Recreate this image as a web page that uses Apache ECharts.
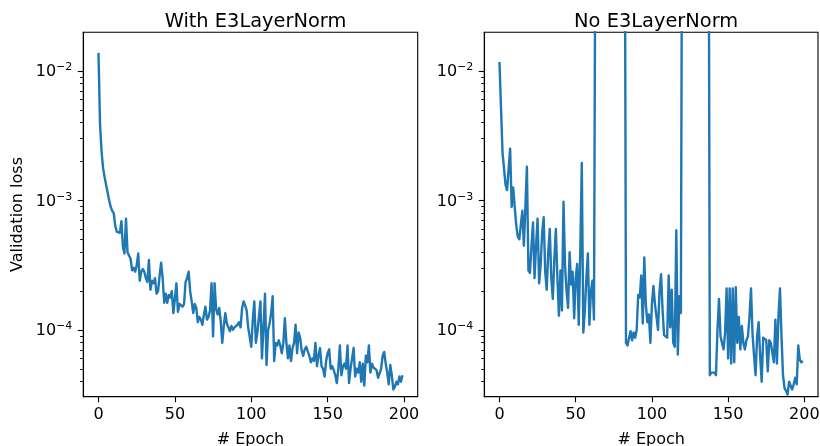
<!DOCTYPE html>
<html><head><meta charset="utf-8">
<script src="https://cdn.jsdelivr.net/npm/echarts@6/dist/echarts.min.js"></script>
<style>html,body{margin:0;padding:0;background:#fff}#c{width:820px;height:446px}</style>
</head><body><div id="c"></div>
<script>
const titles = ['With E3LayerNorm', 'No E3LayerNorm'];
const xLabel = '# Epoch';
const yLabel = 'Validation loss';
const xTicks = [0, 50, 100, 150, 200];
const yMajorTicks = [1e-4, 1e-3, 1e-2];
const yMinorTicks = [4e-5, 5e-5, 6e-5, 7e-5, 8e-5, 9e-5,
  2e-4, 3e-4, 4e-4, 5e-4, 6e-4, 7e-4, 8e-4, 9e-4,
  2e-3, 3e-3, 4e-3, 5e-3, 6e-3, 7e-3, 8e-3, 9e-3];

// Validation loss per epoch (0..199), with E3LayerNorm
const lossWith = [
  1.380e-2, 3.890e-3, 2.399e-3, 1.778e-3, 1.514e-3, 1.318e-3, 1.148e-3, 1.000e-3, 8.913e-4, 8.318e-4,
  7.943e-4, 6.310e-4, 5.754e-4, 5.700e-4, 5.623e-4, 6.918e-4, 4.365e-4, 3.890e-4, 7.244e-4, 3.981e-4,
  4.074e-4, 3.548e-4, 2.884e-4, 3.020e-4, 2.818e-4, 3.162e-4, 3.890e-4, 2.399e-4, 2.818e-4, 2.951e-4,
  2.818e-4, 2.512e-4, 2.344e-4, 3.467e-4, 2.042e-4, 2.399e-4, 2.291e-4, 2.512e-4, 1.905e-4, 1.995e-4,
  2.630e-4, 3.311e-4, 2.512e-4, 1.622e-4, 1.905e-4, 1.622e-4, 1.862e-4, 1.778e-4, 1.995e-4, 1.349e-4,
  1.738e-4, 2.291e-4, 1.380e-4, 1.585e-4, 1.549e-4, 1.514e-4, 1.585e-4, 2.344e-4, 2.512e-4, 2.818e-4,
  1.995e-4, 1.660e-4, 1.349e-4, 1.585e-4, 1.479e-4, 1.148e-4, 1.259e-4, 1.202e-4, 1.096e-4, 1.318e-4,
  1.514e-4, 1.202e-4, 1.259e-4, 1.413e-4, 2.291e-4, 8.913e-5, 2.291e-4, 1.445e-4, 1.318e-4, 1.479e-4,
  1.175e-4, 7.943e-5, 1.072e-4, 1.349e-4, 1.122e-4, 1.096e-4, 9.772e-5, 1.072e-4, 1.000e-4, 1.047e-4,
  1.023e-4, 1.096e-4, 1.148e-4, 1.047e-4, 1.479e-4, 1.660e-4, 1.549e-4, 1.413e-4, 1.047e-4, 1.072e-4,
  7.413e-5, 1.202e-4, 1.660e-4, 7.943e-5, 9.550e-5, 1.259e-4, 1.660e-4, 6.026e-5, 1.047e-4, 1.905e-4,
  5.370e-5, 1.000e-4, 1.122e-4, 1.349e-4, 1.820e-4, 5.754e-5, 7.943e-5, 7.586e-5, 8.318e-5, 7.586e-5,
  6.607e-5, 7.943e-5, 1.230e-4, 7.943e-5, 6.026e-5, 7.586e-5, 5.754e-5, 7.244e-5, 7.943e-5, 1.096e-4,
  6.607e-5, 9.550e-5, 8.710e-5, 6.918e-5, 6.310e-5, 7.079e-5, 7.413e-5, 7.586e-5, 6.310e-5, 5.623e-5,
  6.026e-5, 5.754e-5, 7.943e-5, 5.248e-5, 6.310e-5, 7.244e-5, 5.248e-5, 5.012e-5, 4.365e-5, 5.754e-5,
  6.607e-5, 7.079e-5, 5.012e-5, 5.248e-5, 4.898e-5, 4.467e-5, 3.890e-5, 5.012e-5, 7.586e-5, 4.467e-5,
  5.248e-5, 5.495e-5, 5.012e-5, 7.586e-5, 3.890e-5, 5.012e-5, 6.026e-5, 7.244e-5, 4.365e-5, 5.012e-5,
  4.677e-5, 5.623e-5, 3.981e-5, 5.495e-5, 3.715e-5, 6.310e-5, 5.623e-5, 7.586e-5, 4.677e-5, 5.495e-5,
  5.129e-5, 5.129e-5, 4.898e-5, 4.266e-5, 4.266e-5, 5.012e-5, 6.310e-5, 6.761e-5, 5.495e-5, 4.677e-5,
  3.802e-5, 5.370e-5, 4.467e-5, 3.467e-5, 3.631e-5, 3.981e-5, 3.802e-5, 4.365e-5, 3.981e-5, 4.467e-5
];

// Validation loss per epoch (0..199), without E3LayerNorm (spikes run far above the plot)
const lossWithout = [
  1.175e-2, 5.248e-3, 2.344e-3, 2.291e-3, 1.318e-3, 1.202e-3, 1.738e-3, 2.512e-3, 8.913e-4, 1.259e-3,
  8.913e-4, 6.457e-4, 5.248e-4, 5.012e-4, 4.898e-4, 8.318e-4, 4.467e-4, 8.913e-4, 1.820e-3, 2.884e-4,
  2.754e-4, 4.467e-4, 6.761e-4, 2.512e-4, 4.467e-4, 7.244e-4, 2.291e-4, 3.162e-4, 5.623e-4, 7.413e-4,
  2.818e-4, 2.042e-4, 3.981e-4, 6.026e-4, 2.512e-4, 1.738e-4, 3.548e-4, 6.026e-4, 2.512e-4, 1.288e-4,
  2.884e-4, 1.413e-4, 9.772e-4, 3.162e-4, 1.995e-4, 1.479e-4, 3.981e-4, 2.239e-4, 2.818e-4, 1.230e-4,
  2.512e-4, 3.236e-4, 1.096e-4, 3.981e-4, 1.950e-3, 9.550e-5, 1.413e-4, 2.512e-4, 3.890e-4, 1.096e-4,
  1.995e-4, 2.399e-4, 1.202e-4, 3.5e-1, 1.2, 4.8, 2.6, 9.0e-1, 3.1, 7.5,
  1.8, 6.0e-1, 2.2, 5.4, 1.5, 8.0e-1, 3.6, 9.2, 2.9, 1.1,
  4.3, 7.0e-1, 2.4, 7.943e-5, 7.586e-5, 7.413e-5, 9.772e-5, 8.318e-5, 9.550e-5, 8.710e-5,
  1.000e-4, 1.862e-4, 1.778e-4, 2.630e-4, 1.122e-4, 3.631e-4, 1.585e-4, 1.148e-4, 1.318e-4, 7.943e-5,
  1.585e-4, 2.188e-4, 1.585e-4, 1.259e-4, 1.000e-4, 1.995e-4, 2.692e-4, 1.413e-4, 9.120e-5, 8.913e-5,
  8.710e-5, 2.630e-4, 1.047e-4, 2.042e-4, 7.943e-5, 7.413e-5, 5.888e-4, 6.457e-5, 1.820e-4, 1.349e-4,
  2.1, 6.5, 1.4, 3.8, 8.8, 2.7, 5.1, 1.3, 4.1, 9.5,
  2.0, 6.8, 3.3, 1.6, 7.2, 2.5, 5.8, 3.9, 4.467e-5, 4.677e-5,
  4.571e-5, 4.677e-5, 4.467e-5, 1.000e-4, 1.738e-4, 8.913e-5, 8.710e-5, 7.079e-5, 9.550e-5, 2.089e-4,
  6.026e-5, 2.089e-4, 5.495e-5, 2.089e-4, 5.623e-5, 2.138e-4, 7.943e-5, 1.259e-4, 7.079e-5, 1.072e-4,
  7.943e-5, 7.079e-5, 8.318e-5, 8.913e-5, 1.259e-4, 2.089e-4, 9.333e-5, 6.310e-5, 4.467e-5, 8.913e-5,
  1.148e-4, 6.310e-5, 3.981e-5, 8.710e-5, 8.710e-5, 8.318e-5, 4.786e-5, 8.318e-5, 7.943e-5, 7.762e-5,
  5.623e-5, 1.202e-4, 5.495e-5, 1.259e-4, 2.089e-4, 8.913e-5, 4.467e-5, 3.548e-5, 3.388e-5, 3.162e-5,
  3.981e-5, 3.890e-5, 3.467e-5, 3.802e-5, 4.266e-5, 3.802e-5, 7.586e-5, 5.888e-5, 5.623e-5, 5.754e-5
];

const FONT = 'DejaVu Sans';
const X_MIN = -9.95, X_MAX = 208.95;
const Y_MIN = 3.05e-5, Y_MAX = 1.99e-2;
const grids = [
  { left: 83.3, top: 32.3, width: 334.4, height: 364.4 },
  { left: 484.3, top: 32.3, width: 333.7, height: 364.4 }
];
const centers = grids.map(g => g.left + g.width / 2);

function yFmt(v) {
  const e = Math.round(Math.log10(v));
  return '{b|10}{s|' + (e < 0 ? '\u2212' : '') + Math.abs(e) + '}';
}

const xAxes = grids.map((g, i) => ({
  type: 'value', gridIndex: i, min: X_MIN, max: X_MAX,
  axisLine: { show: true, onZero: false, lineStyle: { color: '#000', width: 1.1 } },
  axisTick: { show: true, customValues: xTicks, length: 5.5, lineStyle: { color: '#000', width: 1.1 } },
  axisLabel: { customValues: xTicks, fontSize: 16, color: '#000', fontFamily: FONT, margin: 10 },
  splitLine: { show: false },
  name: xLabel, nameLocation: 'middle', nameGap: 35,
  nameTextStyle: { fontSize: 16, color: '#000', fontFamily: FONT }
}));

const yAxes = [];
grids.forEach((g, i) => {
  yAxes.push({
    type: 'log', logBase: 10, gridIndex: i, min: Y_MIN, max: Y_MAX, position: 'left',
    axisLine: { show: true, onZero: false, lineStyle: { color: '#000', width: 1.1 } },
    axisTick: { show: true, customValues: yMajorTicks, length: 5.5, lineStyle: { color: '#000', width: 1.1 } },
    minorTick: { show: false },
    axisLabel: {
      customValues: yMajorTicks, formatter: yFmt, margin: 11, color: '#000', fontFamily: FONT,
      rich: {
        b: { fontSize: 16, fontFamily: FONT, color: '#000', verticalAlign: 'bottom' },
        s: { fontSize: 11, fontFamily: FONT, color: '#000', verticalAlign: 'bottom', padding: [0, 0, 7, 0] }
      }
    },
    splitLine: { show: false },
    name: i === 0 ? yLabel : '', nameLocation: 'middle', nameGap: 57, nameRotate: 90,
    nameTextStyle: { fontSize: 16, color: '#000', fontFamily: FONT }
  });
  yAxes.push({
    type: 'log', logBase: 10, gridIndex: i, min: Y_MIN, max: Y_MAX, position: 'left', offset: 0,
    axisLine: { show: false, onZero: false },
    axisTick: { show: true, customValues: yMinorTicks, length: 3.2, lineStyle: { color: '#000', width: 0.9 } },
    minorTick: { show: false },
    axisLabel: { show: false },
    splitLine: { show: false }
  });
});

const seriesData = [lossWith, lossWithout];
const option = {
  animation: false,
  backgroundColor: '#fff',
  textStyle: { fontFamily: FONT },
  title: titles.map((t, i) => ({
    text: t, left: centers[i], top: 7, textAlign: 'center',
    textStyle: { fontSize: 19.4, fontWeight: 'normal', color: '#000', fontFamily: FONT }
  })),
  grid: grids.map(g => Object.assign({
    show: true, borderColor: '#000', borderWidth: 1.1, backgroundColor: 'transparent',
    containLabel: false, outerBoundsMode: 'none'
  }, g)),
  xAxis: xAxes,
  yAxis: yAxes,
  series: seriesData.map((arr, i) => ({
    type: 'line', xAxisIndex: i, yAxisIndex: i * 2,
    data: arr.map((v, k) => [k, v]),
    showSymbol: false, symbol: 'none', clip: true,
    lineStyle: { color: '#1f77b4', width: 2.4, join: 'round' }
  }))
};
const chart = echarts.init(document.getElementById('c'), null, { renderer: 'canvas' });
chart.setOption(option);
</script></body></html>
